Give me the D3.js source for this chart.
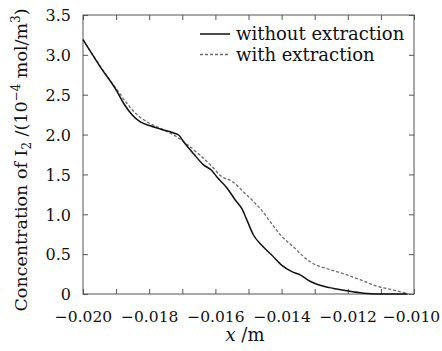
<!DOCTYPE html>
<html>
<head>
<meta charset="utf-8">
<script src="https://cdn.jsdelivr.net/npm/d3@7/dist/d3.min.js"></script>
<style>
  html, body { margin: 0; padding: 0; background: #ffffff; }
  svg text { font-family: "DejaVu Serif", serif; fill: #111; }
</style>
</head>
<body>
<svg id="chart" width="442" height="351"></svg>
<script>
// Position along the cell (m)
const xWithout = [-0.0200, -0.01948, -0.01897, -0.01877, -0.01852, -0.01827, -0.01797, -0.01767, -0.01726, -0.01711,
  -0.01696, -0.01666, -0.01636, -0.01611, -0.01596, -0.01565, -0.01540, -0.01520, -0.01505, -0.01485,
  -0.01460, -0.01430, -0.01399, -0.01369, -0.01344, -0.01314, -0.01284, -0.01243, -0.01203, -0.01153,
  -0.01113, -0.01020];
// I2 concentration without extraction (1e-4 mol/m^3)
const yWithout = [3.19, 2.85, 2.54, 2.39, 2.25, 2.16, 2.11, 2.07, 2.02, 1.995,
  1.91, 1.76, 1.62, 1.55, 1.47, 1.33, 1.18, 1.07, 0.93, 0.74,
  0.61, 0.49, 0.36, 0.28, 0.24, 0.16, 0.11, 0.07, 0.04, 0.01,
  0.0, 0.0];

const xWith = [-0.0200, -0.01948, -0.01897, -0.01867, -0.01837, -0.01807, -0.01767, -0.01726, -0.01696, -0.01646,
  -0.01606, -0.01586, -0.01545, -0.01515, -0.01485, -0.01460, -0.01435, -0.01399, -0.01364, -0.01334,
  -0.01304, -0.01264, -0.01203, -0.01163, -0.01113, -0.01062, -0.01017];
// I2 concentration with extraction (1e-4 mol/m^3)
const yWith = [3.19, 2.86, 2.56, 2.39, 2.25, 2.16, 2.08, 1.995, 1.91, 1.74,
  1.58, 1.49, 1.40, 1.28, 1.16, 1.05, 0.91, 0.72, 0.59, 0.47,
  0.38, 0.32, 0.24, 0.18, 0.10, 0.05, 0.0];

const xTickMajor = [-0.020, -0.018, -0.016, -0.014, -0.012, -0.010];
const xTickLabels = ["\u22120.020", "\u22120.018", "\u22120.016", "\u22120.014", "\u22120.012", "\u22120.010"];
const xTickMinor = [-0.020, -0.019, -0.018, -0.017, -0.016, -0.015, -0.014, -0.013, -0.012, -0.011, -0.010];
const yTicks = [0, 0.5, 1.0, 1.5, 2.0, 2.5, 3.0, 3.5];
const yTickLabels = ["0", "0.5", "1.0", "1.5", "2.0", "2.5", "3.0", "3.5"];

const legendNames = ["without extraction", "with extraction"];

const svg = d3.select("#chart");
const m = { left: 83, right: 414, top: 15, bottom: 294 };

const x = d3.scaleLinear().domain([-0.020, -0.010]).range([m.left, m.right]);
const y = d3.scaleLinear().domain([0, 3.5]).range([m.bottom, m.top]);

const frameColor = "#555";

// plot frame
svg.append("rect")
  .attr("x", m.left).attr("y", m.top)
  .attr("width", m.right - m.left).attr("height", m.bottom - m.top)
  .attr("fill", "#fff").attr("stroke", frameColor).attr("stroke-width", 1);

// inward ticks: bottom / top
const bottomAxis = d3.axisBottom(x).tickValues(xTickMinor).tickSize(-5).tickFormat("");
svg.append("g").attr("transform", `translate(0,${m.bottom})`).call(bottomAxis)
  .call(g => g.select(".domain").remove())
  .call(g => g.selectAll("line").attr("stroke", frameColor));
const topAxis = d3.axisTop(x).tickValues(xTickMinor).tickSize(-5).tickFormat("");
svg.append("g").attr("transform", `translate(0,${m.top})`).call(topAxis)
  .call(g => g.select(".domain").remove())
  .call(g => g.selectAll("line").attr("stroke", frameColor));

// x tick labels (the last one is nudged left to stay inside the frame)
const xLab = d3.axisBottom(x).tickValues(xTickMajor).tickSize(0)
  .tickFormat((d, i) => xTickLabels[i]);
svg.append("g").attr("transform", `translate(0,${m.bottom})`).call(xLab)
  .call(g => g.select(".domain").remove())
  .call(g => g.selectAll("text")
    .attr("font-family", "DejaVu Serif").attr("font-size", 15.5).attr("fill", "#111")
    .attr("dy", null).attr("y", 27.5)
    .attr("dx", (d, i) => i === xTickMajor.length - 1 ? -3 : 0));

// inward ticks: left / right
const leftAxis = d3.axisLeft(y).tickValues(yTicks).tickSize(-5)
  .tickFormat((d, i) => yTickLabels[i]).tickPadding(12);
svg.append("g").attr("transform", `translate(${m.left},0)`).call(leftAxis)
  .call(g => g.select(".domain").remove())
  .call(g => g.selectAll("line").attr("stroke", frameColor))
  .call(g => g.selectAll("text")
    .attr("font-family", "DejaVu Serif").attr("font-size", 16).attr("fill", "#111")
    .attr("dy", "0.36em"));
const rightAxis = d3.axisRight(y).tickValues(yTicks).tickSize(-5).tickFormat("");
svg.append("g").attr("transform", `translate(${m.right},0)`).call(rightAxis)
  .call(g => g.select(".domain").remove())
  .call(g => g.selectAll("line").attr("stroke", frameColor));

// curves
const line = d3.line().x(d => x(d[0])).y(d => y(d[1])).curve(d3.curveMonotoneX);
const withData = xWith.map((v, i) => [v, yWith[i]]);
const withoutData = xWithout.map((v, i) => [v, yWithout[i]]);

svg.append("path").datum(withData).attr("d", line)
  .attr("fill", "none").attr("stroke", "#6a6a6a").attr("stroke-width", 1.3)
  .attr("stroke-dasharray", "3,2");
svg.append("path").datum(withoutData).attr("d", line)
  .attr("fill", "none").attr("stroke", "#111").attr("stroke-width", 1.5);

// legend
const legend = svg.append("g");
legend.append("line").attr("x1", 200).attr("x2", 230).attr("y1", 34).attr("y2", 34)
  .attr("stroke", "#111").attr("stroke-width", 1.5);
legend.append("text").attr("x", 236).attr("y", 40).attr("font-size", 18).text(legendNames[0]);
legend.append("line").attr("x1", 200).attr("x2", 229).attr("y1", 54.5).attr("y2", 54.5)
  .attr("stroke", "#6a6a6a").attr("stroke-width", 1.3).attr("stroke-dasharray", "3,2");
legend.append("text").attr("x", 236).attr("y", 60.5).attr("font-size", 18).text(legendNames[1]);

// axis titles
const xt = svg.append("text").attr("x", 245).attr("y", 341).attr("text-anchor", "middle").attr("font-size", 18);
xt.append("tspan").attr("font-style", "italic").text("x");
xt.append("tspan").text(" /m");

const yt = svg.append("text")
  .attr("transform", "translate(27,160) rotate(-90)")
  .attr("text-anchor", "middle").attr("font-size", 17.5);
yt.append("tspan").text("Concentration of I");
yt.append("tspan").attr("font-size", 12).attr("dy", 4).text("2");
yt.append("tspan").attr("dy", -4).text(" /(10");
yt.append("tspan").attr("font-size", 12).attr("dy", -7).text("\u22124");
yt.append("tspan").attr("dy", 7).text(" mol/m");
yt.append("tspan").attr("font-size", 12).attr("dy", -7).text("3");
yt.append("tspan").attr("dy", 7).text(")");
</script>
</body>
</html>
